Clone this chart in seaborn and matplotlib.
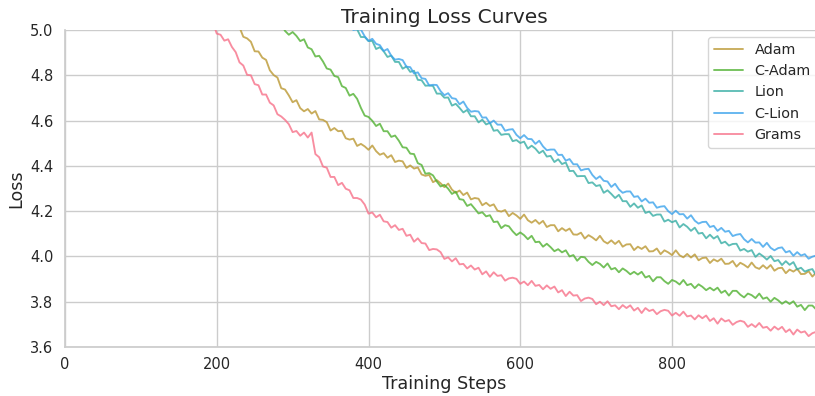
import numpy as np
import pandas as pd
import matplotlib
matplotlib.use("Agg")
import matplotlib.pyplot as plt
import seaborn as sns

series_names = ["Adam", "C-Adam", "Lion", "C-Lion", "Grams"]
step_size = 5

grams_start = 195
grams_loss = [
    5.034, 4.984, 4.979, 4.953, 4.959, 4.925, 4.902, 4.857, 4.843, 4.802,
    4.800, 4.761, 4.756, 4.715, 4.715, 4.679, 4.667, 4.628, 4.618, 4.603,
    4.584, 4.549, 4.554, 4.533, 4.547, 4.525, 4.547, 4.452, 4.438, 4.397,
    4.392, 4.351, 4.351, 4.315, 4.325, 4.299, 4.292, 4.258, 4.258, 4.251,
    4.229, 4.189, 4.194, 4.173, 4.184, 4.155, 4.152, 4.127, 4.138, 4.117,
    4.122, 4.091, 4.096, 4.065, 4.080, 4.059, 4.057, 4.028, 4.033, 4.031,
    4.019, 3.989, 3.996, 3.978, 3.992, 3.965, 3.967, 3.947, 3.960, 3.942,
    3.950, 3.921, 3.934, 3.910, 3.930, 3.914, 3.917, 3.893, 3.903, 3.906,
    3.901, 3.879, 3.889, 3.873, 3.892, 3.870, 3.874, 3.855, 3.872, 3.857,
    3.867, 3.841, 3.851, 3.825, 3.844, 3.827, 3.829, 3.803, 3.814, 3.818,
    3.812, 3.789, 3.800, 3.785, 3.802, 3.780, 3.784, 3.767, 3.785, 3.772,
    3.784, 3.761, 3.773, 3.750, 3.772, 3.759, 3.765, 3.745, 3.758, 3.764,
    3.760, 3.739, 3.751, 3.738, 3.756, 3.735, 3.739, 3.722, 3.740, 3.727,
    3.739, 3.715, 3.727, 3.703, 3.726, 3.713, 3.719, 3.698, 3.710, 3.716,
    3.711, 3.689, 3.701, 3.688, 3.706, 3.685, 3.689, 3.672, 3.690, 3.677,
    3.689, 3.666, 3.678, 3.655, 3.677, 3.664, 3.669, 3.648, 3.661, 3.667,
    3.663,
]

adam_start = 225
adam_loss = [
    5.014, 5.012, 4.970, 4.963, 4.948, 4.906, 4.905, 4.878, 4.868, 4.822,
    4.801, 4.790, 4.743, 4.737, 4.711, 4.681, 4.690, 4.655, 4.641, 4.651,
    4.631, 4.642, 4.605, 4.603, 4.593, 4.556, 4.567, 4.553, 4.555, 4.522,
    4.516, 4.520, 4.488, 4.497, 4.486, 4.471, 4.490, 4.465, 4.449, 4.456,
    4.436, 4.447, 4.417, 4.423, 4.420, 4.391, 4.402, 4.388, 4.393, 4.362,
    4.356, 4.360, 4.328, 4.337, 4.323, 4.306, 4.322, 4.295, 4.281, 4.291,
    4.271, 4.282, 4.252, 4.258, 4.255, 4.226, 4.237, 4.223, 4.230, 4.202,
    4.198, 4.205, 4.178, 4.192, 4.181, 4.166, 4.185, 4.160, 4.149, 4.161,
    4.144, 4.157, 4.130, 4.138, 4.138, 4.111, 4.125, 4.113, 4.123, 4.097,
    4.096, 4.105, 4.079, 4.094, 4.084, 4.071, 4.091, 4.067, 4.057, 4.071,
    4.055, 4.069, 4.043, 4.053, 4.054, 4.028, 4.043, 4.033, 4.045, 4.022,
    4.023, 4.035, 4.010, 4.027, 4.018, 4.006, 4.027, 4.005, 3.996, 4.011,
    3.995, 4.009, 3.983, 3.993, 3.995, 3.971, 3.987, 3.978, 3.990, 3.967,
    3.968, 3.980, 3.955, 3.972, 3.963, 3.951, 3.973, 3.952, 3.945, 3.961,
    3.946, 3.962, 3.937, 3.948, 3.950, 3.926, 3.942, 3.933, 3.945, 3.922,
    3.923, 3.935, 3.911, 3.929, 3.921,
]

cadam_start = 285
cadam_loss = [
    5.026, 4.996, 4.979, 4.991, 4.974, 4.951, 4.959, 4.923, 4.915, 4.883,
    4.886, 4.861, 4.830, 4.825, 4.797, 4.792, 4.752, 4.744, 4.710, 4.718,
    4.696, 4.656, 4.622, 4.616, 4.599, 4.576, 4.586, 4.553, 4.553, 4.528,
    4.534, 4.511, 4.482, 4.480, 4.454, 4.452, 4.412, 4.404, 4.365, 4.368,
    4.358, 4.331, 4.309, 4.316, 4.299, 4.276, 4.286, 4.253, 4.250, 4.223,
    4.231, 4.211, 4.190, 4.195, 4.177, 4.182, 4.152, 4.154, 4.125, 4.138,
    4.133, 4.111, 4.094, 4.106, 4.094, 4.076, 4.091, 4.063, 4.065, 4.043,
    4.056, 4.041, 4.023, 4.032, 4.018, 4.027, 4.000, 4.006, 3.981, 3.998,
    3.996, 3.976, 3.962, 3.976, 3.967, 3.951, 3.969, 3.943, 3.949, 3.930,
    3.947, 3.936, 3.921, 3.932, 3.920, 3.932, 3.907, 3.914, 3.890, 3.908,
    3.908, 3.891, 3.879, 3.896, 3.889, 3.876, 3.896, 3.873, 3.879, 3.860,
    3.877, 3.866, 3.851, 3.862, 3.850, 3.862, 3.839, 3.849, 3.827, 3.848,
    3.848, 3.831, 3.819, 3.836, 3.829, 3.816, 3.836, 3.813, 3.819, 3.800,
    3.817, 3.806, 3.791, 3.802, 3.790, 3.802, 3.778, 3.786, 3.763, 3.783,
    3.783, 3.766, 3.752,
]

lion_start = 375
lion_loss = [
    5.012, 5.005, 5.003, 4.969, 4.969, 4.951, 4.952, 4.916, 4.924, 4.906,
    4.881, 4.887, 4.859, 4.859, 4.829, 4.839, 4.815, 4.820, 4.780, 4.778,
    4.754, 4.755, 4.753, 4.719, 4.719, 4.701, 4.702, 4.666, 4.674, 4.656,
    4.636, 4.647, 4.619, 4.619, 4.592, 4.604, 4.583, 4.590, 4.555, 4.558,
    4.537, 4.540, 4.540, 4.509, 4.514, 4.501, 4.507, 4.476, 4.489, 4.476,
    4.456, 4.467, 4.441, 4.444, 4.417, 4.429, 4.408, 4.415, 4.377, 4.378,
    4.354, 4.355, 4.355, 4.324, 4.327, 4.311, 4.315, 4.281, 4.292, 4.276,
    4.258, 4.272, 4.244, 4.244, 4.219, 4.234, 4.215, 4.225, 4.192, 4.198,
    4.179, 4.185, 4.185, 4.154, 4.162, 4.151, 4.158, 4.128, 4.143, 4.131,
    4.113, 4.127, 4.101, 4.104, 4.080, 4.096, 4.079, 4.090, 4.058, 4.065,
    4.048, 4.055, 4.056, 4.026, 4.033, 4.021, 4.028, 3.998, 4.013, 4.001,
    3.986, 4.002, 3.979, 3.984, 3.962, 3.979, 3.963, 3.975, 3.943, 3.950,
    3.933, 3.940, 3.944, 3.916, 3.922,
]

clion_start = 375
clion_loss = [
    5.037, 5.000, 5.003, 5.002, 4.972, 4.952, 4.961, 4.939, 4.933, 4.907,
    4.916, 4.886, 4.869, 4.872, 4.867, 4.838, 4.836, 4.808, 4.813, 4.787,
    4.784, 4.755, 4.758, 4.757, 4.730, 4.712, 4.721, 4.699, 4.696, 4.672,
    4.684, 4.656, 4.639, 4.642, 4.640, 4.613, 4.614, 4.588, 4.600, 4.582,
    4.582, 4.555, 4.560, 4.562, 4.537, 4.522, 4.536, 4.519, 4.518, 4.497,
    4.511, 4.486, 4.469, 4.472, 4.472, 4.448, 4.449, 4.423, 4.430, 4.407,
    4.407, 4.380, 4.385, 4.387, 4.360, 4.342, 4.354, 4.334, 4.331, 4.307,
    4.321, 4.296, 4.281, 4.287, 4.287, 4.263, 4.266, 4.243, 4.255, 4.237,
    4.239, 4.215, 4.220, 4.222, 4.200, 4.187, 4.202, 4.186, 4.187, 4.167,
    4.182, 4.158, 4.145, 4.152, 4.153, 4.130, 4.135, 4.113, 4.126, 4.109,
    4.113, 4.090, 4.096, 4.099, 4.076, 4.062, 4.077, 4.061, 4.062, 4.042,
    4.060, 4.038, 4.027, 4.037, 4.040, 4.018, 4.024, 4.003, 4.019, 4.004,
    4.010, 3.990, 3.999, 4.004, 3.980,
]

colors = {
    "Adam": "#bb9832",
    "C-Adam": "#50b131",
    "Lion": "#36ada4",
    "C-Lion": "#3ba3ec",
    "Grams": "#f77189",
}

frames = []
for name, start, vals in [
    ("Adam", adam_start, adam_loss),
    ("C-Adam", cadam_start, cadam_loss),
    ("Lion", lion_start, lion_loss),
    ("C-Lion", clion_start, clion_loss),
    ("Grams", grams_start, grams_loss),
]:
    steps = start + step_size * np.arange(len(vals))
    frames.append(pd.DataFrame({"step": steps, "loss": vals, "optimizer": name}))
df = pd.concat(frames, ignore_index=True)

sns.set_theme(style="whitegrid")
plt.rcParams["font.family"] = ["DejaVu Sans"]

W, H = 815, 396
fig = plt.figure(figsize=(W / 100, H / 100), dpi=100)
left, right, top, bottom = 65, 823.75, 30, 347
ax = fig.add_axes([left / W, (H - bottom) / H, (right - left) / W, (bottom - top) / H])

sns.lineplot(data=df, x="step", y="loss", hue="optimizer", hue_order=series_names,
             palette=colors, estimator=None, linewidth=1.35, alpha=0.8, ax=ax)

ax.set_xlim(0, 1000)
ax.set_ylim(3.6, 5.0)
ax.set_xticks([0, 200, 400, 600, 800])
ax.set_yticks([3.6, 3.8, 4.0, 4.2, 4.4, 4.6, 4.8, 5.0])
ax.set_yticklabels(["3.6", "3.8", "4.0", "4.2", "4.4", "4.6", "4.8", "5.0"])
ax.tick_params(axis="x", labelsize=10.5, colors="#262626", pad=1.0)
ax.tick_params(axis="y", labelsize=10.5, colors="#262626", pad=2.5)
ax.set_xlabel("Training Steps", fontsize=12.6, labelpad=2.5)
ax.set_ylabel("Loss", fontsize=12.6, labelpad=3.5)
ax.set_title("Training Loss Curves", fontsize=14.5, pad=5)
ax.spines["top"].set_visible(False)
ax.spines["right"].set_visible(False)
sns.move_legend(ax, "upper right", title=None, fontsize=10.4, frameon=True)

fig.savefig("out.png", dpi=100)
